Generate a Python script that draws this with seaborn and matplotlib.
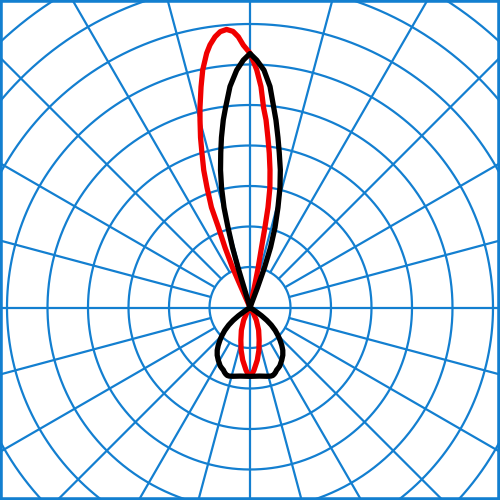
import numpy as np
import matplotlib
matplotlib.use("Agg")
import matplotlib.pyplot as plt
from matplotlib.patches import Rectangle
import seaborn as sns

# light distribution, candela vs angle (deg from the upward axis, clockwise)
black_up_angle = [-17, -16.7, -16.7, -16.26, -15.38, -14.57, -13.36, -12.11, -10.7, -9.52, -8.1, -6.98,
                  -5.17, -3.21, -1.55, 0, 1.55, 3.37, 5.17, 7.89, 9.35, 10.7, 12.43, 14.04, 15.64,
                  17.35, 18.86, 19.93, 20.56, 21]
black_up_cd = [0, 52, 103, 154, 205, 255, 304, 347, 389, 426, 468, 497,
               548, 587, 611, 627, 611, 587, 548, 467, 425, 389, 348, 305, 256,
               207, 157, 105, 53, 0]
# lower lobe, deg from the downward axis (positive = right side)
black_down_angle = [57, 56, 54.5, 52.7, 50.5, 47.8, 45, 42.5, 40, 37.5, 34.5, 31, 27, 25, 23, 21.5,
                    20, 18.5, 17, 14, 8, 0, -8, -14, -17, -18.5, -20, -21.5, -23, -25, -27, -31,
                    -34.5, -37.5, -40, -42.5, -45, -47.8, -50.5, -52.7, -54.5, -56, -57]
black_down_cd = [0, 17, 35, 52, 68, 84, 98, 110, 122, 133, 143, 152, 162, 165, 168, 172,
                 175, 177, 177, 175, 171, 170, 171, 175, 177, 177, 175, 172, 168, 165, 162, 152,
                 143, 133, 122, 110, 98, 84, 68, 52, 35, 17, 0]

red_up_angle = [-24, -23.75, -23.63, -22.62, -21.49, -21.06, -19.71, -18.61, -17.26, -16.23, -14.93,
                -14.04, -12.51, -11.26, -9.67, -8.66, -7.36, -6.16, -4.81, -3.52, -2.47, -1.46,
                0, 0.82, 1.62, 2.85, 3.87, 4.88, 6.01, 7.12, 8.28, 9.42, 10.2, 10.55, 10.85,
                11.58, 12.1, 12.5]
red_up_cd = [0, 54, 108, 160, 214, 265, 315, 358, 400, 437, 479,
             509, 558, 598, 637, 656, 674, 685, 689, 683, 669, 648,
             628, 607, 587, 546, 495, 465, 422, 384, 343, 300, 251, 202, 151,
             101, 51, 0]
red_down_angle = [33, 30, 26.5, 20.8, 15.6, 11.7, 7.9, 3.65, 2, 0,
                  -2, -3.65, -7.9, -11.7, -15.6, -20.8, -26.5, -30, -33]
red_down_cd = [0, 17, 35, 60, 84, 108, 131, 155, 163, 170,
               163, 155, 131, 108, 84, 60, 35, 17, 0]

ring_cd = 100
grid_blue = "#137fd0"


def to_polar(up_ang, up_cd, down_ang, down_cd):
    phi = np.r_[np.array(up_ang, float), 180 - np.array(down_ang, float)]
    r = np.r_[up_cd, down_cd] / ring_cd
    return np.deg2rad(phi), r


sns.set_style("white")
fig = plt.figure(figsize=(5, 5), dpi=100)
# polar axes larger than the figure, origin at (250, 307.5) px
rmax = 10
half = rmax * 40.5 / 500
cx, cy = 0.5, 1 - 307.5 / 500
ax = fig.add_axes([cx - half, cy - half, 2 * half, 2 * half], projection="polar")
ax.set_theta_zero_location("N")
ax.set_theta_direction(-1)
ax.grid(False)
ax.set_xticks([])
ax.set_yticks([])
ax.spines["polar"].set_visible(False)

th = np.linspace(0, 2 * np.pi, 720)
for k in range(1, rmax):
    ax.plot(th, np.full_like(th, k), color=grid_blue, lw=1.6, zorder=1)
for a in range(0, 360, 15):
    r0 = 0 if a % 90 == 0 else 1
    ax.plot([np.deg2rad(a)] * 2, [r0, rmax], color=grid_blue, lw=1.6, zorder=1)

bt, br = to_polar(black_up_angle, black_up_cd, black_down_angle, black_down_cd)
rt, rr = to_polar(red_up_angle, red_up_cd, red_down_angle, red_down_cd)
sns.lineplot(x=bt, y=br, sort=False, estimator=None, color="black", lw=3.8,
             solid_joinstyle="round", ax=ax, zorder=3)
sns.lineplot(x=rt, y=rr, sort=False, estimator=None, color="#f00000", lw=3.8,
             solid_joinstyle="round", ax=ax, zorder=2)
ax.set_ylim(0, rmax)
ax.set_xlabel("")
ax.set_ylabel("")

fig.add_artist(Rectangle((0, 0), 1, 1, transform=fig.transFigure, fill=False,
                         ec=grid_blue, lw=4))
fig.savefig("out.png", dpi=100)
